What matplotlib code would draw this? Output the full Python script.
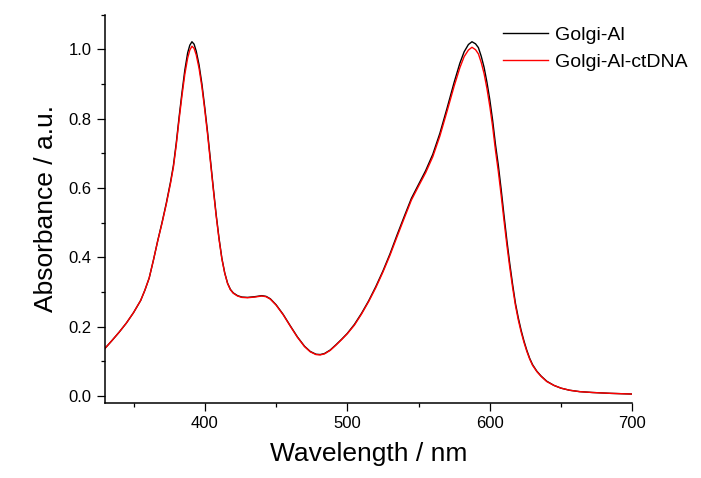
import matplotlib
matplotlib.use('Agg')
import matplotlib.pyplot as plt
from matplotlib.ticker import MultipleLocator

plt.rcParams['font.family'] = ['Liberation Sans', 'DejaVu Sans']

##### UV-vis absorption spectra

wavelength = [330, 335, 340, 345, 350, 355, 358, 361, 364, 367, 370, 373, 376, 378, 380,
              382, 384, 386, 388, 389.5, 391, 392.5, 394, 396, 398, 400, 402, 404, 406,
              408, 410, 412, 414, 416, 418, 420, 423, 426, 430, 435, 440, 443, 446, 450,
              455, 460, 465, 470, 474, 478, 481, 484, 488, 492, 496, 500, 505, 510, 515,
              520, 525, 530, 535, 540, 545, 550, 555, 560, 565, 570, 575, 579, 582, 585,
              587.5, 590, 592, 594, 596, 598, 600, 602, 604, 606, 608, 610, 612, 614, 616,
              618, 620, 622, 624, 626, 628, 630, 633, 636, 640, 645, 650, 656, 663, 672,
              685, 700]

golgi_al = [0.137, 0.160, 0.184, 0.210, 0.240, 0.275, 0.305, 0.340, 0.392, 0.448, 0.500, 0.556, 0.618, 0.665, 0.730,
            0.805, 0.875, 0.940, 0.990, 1.012, 1.022, 1.015, 0.995, 0.955, 0.900, 0.832, 0.760, 0.680, 0.600,
            0.523, 0.455, 0.397, 0.355, 0.325, 0.307, 0.297, 0.289, 0.285, 0.284, 0.286, 0.289, 0.287, 0.280, 0.263,
            0.235, 0.202, 0.170, 0.143, 0.128, 0.120, 0.119, 0.122, 0.132, 0.147, 0.163, 0.180, 0.206, 0.238, 0.274,
            0.315, 0.360, 0.410, 0.465, 0.518, 0.570, 0.610, 0.650, 0.697, 0.758, 0.830, 0.905, 0.960, 0.993, 1.014,
            1.022, 1.016, 1.005, 0.980, 0.948, 0.905, 0.855, 0.795, 0.725, 0.665, 0.595, 0.520, 0.448, 0.382, 0.322,
            0.267, 0.225, 0.189, 0.158, 0.131, 0.108, 0.090, 0.071, 0.057, 0.042, 0.030, 0.022, 0.016, 0.012, 0.0095,
            0.007, 0.005]

golgi_al_ctdna = [0.137, 0.160, 0.184, 0.210, 0.240, 0.275, 0.305, 0.340, 0.392, 0.447, 0.498, 0.553, 0.614, 0.660, 0.724,
                  0.798, 0.866, 0.928, 0.975, 0.998, 1.009, 1.003, 0.984, 0.945, 0.891, 0.825, 0.753, 0.674, 0.595,
                  0.519, 0.452, 0.395, 0.354, 0.324, 0.306, 0.296, 0.288, 0.284, 0.283, 0.285, 0.288, 0.286, 0.279, 0.262,
                  0.234, 0.201, 0.169, 0.142, 0.127, 0.119, 0.118, 0.121, 0.131, 0.146, 0.162, 0.179, 0.204, 0.236, 0.272,
                  0.312, 0.357, 0.406, 0.460, 0.513, 0.565, 0.605, 0.644, 0.690, 0.750, 0.821, 0.894, 0.947, 0.979, 0.998,
                  1.006, 0.999, 0.987, 0.962, 0.930, 0.887, 0.836, 0.777, 0.708, 0.647, 0.578, 0.505, 0.435, 0.371, 0.313,
                  0.261, 0.219, 0.184, 0.154, 0.128, 0.106, 0.088, 0.070, 0.056, 0.041, 0.030, 0.022, 0.016, 0.012, 0.0095,
                  0.007, 0.005]

fig = plt.figure(figsize=(7.01, 4.78), dpi=100)
ax = fig.add_axes([0.1498, 0.1575, 0.7522, 0.8117])

ax.plot(wavelength, golgi_al, color='black', linewidth=1.0, label='Golgi-Al')
ax.plot(wavelength, golgi_al_ctdna, color='#ff0000', linewidth=1.0, label='Golgi-Al-ctDNA')

ax.set_xlim(330, 700)
ax.set_ylim(-0.02, 1.10)

ax.xaxis.set_major_locator(MultipleLocator(100))
ax.xaxis.set_minor_locator(MultipleLocator(50))
ax.yaxis.set_major_locator(MultipleLocator(0.2))
ax.yaxis.set_minor_locator(MultipleLocator(0.1))
ax.yaxis.set_major_formatter(lambda v, p: '%.1f' % v)

for side in ['top', 'right']:
    ax.spines[side].set_visible(False)
for side in ['left', 'bottom']:
    ax.spines[side].set_linewidth(1.1)

ax.tick_params(which='major', direction='out', length=5.5, width=0.9, labelsize=12, pad=4)
ax.tick_params(which='minor', direction='out', length=3, width=0.9)

ax.set_xlabel('Wavelength / nm', fontsize=19, labelpad=8)
ax.set_ylabel('Absorbance / a.u.', fontsize=19, labelpad=8)

fig.legend(loc='upper left', bbox_to_anchor=(503 / 701, 1 - 26 / 478), frameon=False,
           fontsize=14, handlelength=2.3, handletextpad=0.35, labelspacing=0.5,
           borderpad=0, borderaxespad=0)

fig.savefig('out.png', dpi=100)
